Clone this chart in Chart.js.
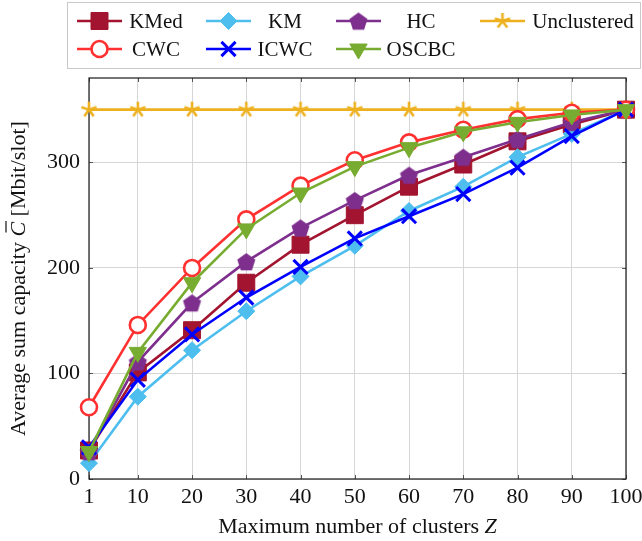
<!DOCTYPE html>
<html>
<head>
<meta charset="utf-8">
<script src="https://cdn.jsdelivr.net/npm/chart.js@4.4.1/dist/chart.umd.min.js"></script>
<style>
  html, body { margin: 0; padding: 0; background: #fff; }
  #wrap { width: 642px; height: 541px; }
</style>
</head>
<body>
<div id="wrap"><canvas id="myChart" width="642" height="541"></canvas></div>
<script>
// data
const clusters = [1, 10, 20, 30, 40, 50, 60, 70, 80, 90, 100];
const kmed = [27, 101, 141, 186, 222, 250, 277, 298, 320, 336, 350];
const km = [15, 78, 122, 159, 192, 221, 254, 277, 305, 327, 350];
const hc = [26, 111, 167, 206, 238, 264, 288, 305, 322, 338, 350];
const unclustered = [350, 350, 350, 350, 350, 350, 350, 350, 350, 350, 350];
const cwc = [68, 146, 200, 246, 278, 302, 319, 331, 341, 347, 350];
const icwc = [30, 94, 137, 172, 201, 228, 249, 270, 295, 325, 350];
const oscbc = [26, 120, 186, 237, 271, 296, 314, 329, 338, 345, 350];
const yTicks = [0, 100, 200, 300];

const serif = '"Liberation Serif", "DejaVu Serif", serif';

// pentagon and asterisk marks (not in Chart.js)
function makePentagon(color, r) {
    let s = Math.ceil(r * 2 + 2);
    let c = document.createElement('canvas');
    c.width = s; c.height = s;
    let g = c.getContext('2d');
    g.fillStyle = color;
    g.beginPath();
    for (let i = 0; i < 5; i++) {
        let a = -Math.PI / 2 + i * 2 * Math.PI / 5;
        g.lineTo(s / 2 + r * Math.cos(a), s / 2 + 1 + r * Math.sin(a));
    }
    g.closePath();
    g.fill();
    return c;
}

function makeStar(color, r) {
    let s = Math.ceil(r * 2 + 4);
    let c = document.createElement('canvas');
    c.width = s; c.height = s;
    let g = c.getContext('2d');
    g.strokeStyle = color;
    g.lineWidth = 2.6;
    g.beginPath();
    for (let i = 0; i < 5; i++) {
        let a = -Math.PI / 2 + i * 2 * Math.PI / 5;
        g.moveTo(s / 2, s / 2);
        g.lineTo(s / 2 + r * Math.cos(a), s / 2 + r * Math.sin(a));
    }
    g.stroke();
    return c;
}

function series(label, values, color, extra) {
    return Object.assign({
        label: label,
        data: clusters.map((x, i) => ({ x: x, y: values[i] })),
        borderColor: color,
        backgroundColor: color,
        pointBackgroundColor: color,
        pointBorderColor: color,
        borderWidth: 2.6,
        pointBorderWidth: 1,
        pointRadius: 8,
        pointHoverRadius: 8,
        clip: false,
        tension: 0
    }, extra);
}

let datasets = [
    series('KMed', kmed, '#A2142F', { pointStyle: 'rect', pointRadius: 12, order: 7 }),
    series('KM', km, '#4DBEEE', { pointStyle: 'rectRot', pointRadius: 8.5, order: 6 }),
    series('HC', hc, '#7E2F8E', { pointStyle: makePentagon('#7E2F8E', 9.5), order: 5 }),
    series('Unclustered', unclustered, '#EDB120', { pointStyle: makeStar('#EDB120', 8), order: 4 }),
    series('CWC', cwc, '#FF3030', { pointStyle: 'circle', pointRadius: 8, pointBorderWidth: 2.6, pointBackgroundColor: '#ffffff', order: 3 }),
    series('ICWC', icwc, '#0000FF', { pointStyle: 'crossRot', pointRadius: 10, pointBorderWidth: 3, order: 2 }),
    series('OSCBC', oscbc, '#77AC30', { pointStyle: 'triangle', pointRotation: 180, pointRadius: 10, order: 1 })
];

// plot frame + inner tick marks
const framePlugin = {
    id: 'frame',
    beforeDatasetsDraw(chart) {
        let a = chart.chartArea, ctx = chart.ctx;
        ctx.save();
        ctx.strokeStyle = '#555';
        ctx.lineWidth = 1;
        ctx.beginPath();
        clusters.forEach(v => {
            let x = Math.round(chart.scales.x.getPixelForValue(v)) + 0.5;
            ctx.moveTo(x, a.bottom); ctx.lineTo(x, a.bottom - 4);
            ctx.moveTo(x, a.top); ctx.lineTo(x, a.top + 4);
        });
        yTicks.forEach(v => {
            let y = Math.round(chart.scales.y.getPixelForValue(v)) + 0.5;
            ctx.moveTo(a.left, y); ctx.lineTo(a.left + 4, y);
            ctx.moveTo(a.right, y); ctx.lineTo(a.right - 4, y);
        });
        ctx.stroke();
        ctx.strokeStyle = '#1a1a1a';
        ctx.lineWidth = 1.2;
        ctx.strokeRect(a.left, a.top, a.right - a.left, a.bottom - a.top);
        ctx.restore();
    }
};

// legend box, 4 columns like the original
const legendPlugin = {
    id: 'boxLegend',
    afterDraw(chart) {
        let ctx = chart.ctx;
        let lineX = [77, 206, 336, 480];
        let textX = [156, 285, 421, 583];
        let rowY = [21, 49];
        ctx.save();
        ctx.strokeStyle = '#c8c8c8';
        ctx.lineWidth = 1;
        ctx.strokeRect(67.5, 2.5, 573, 66);
        chart.data.datasets.forEach((ds, i) => {
            let col = i % 4, row = Math.floor(i / 4);
            let x0 = lineX[col], y = rowY[row];
            ctx.strokeStyle = ds.borderColor;
            ctx.lineWidth = ds.borderWidth;
            ctx.beginPath();
            ctx.moveTo(x0, y); ctx.lineTo(x0 + 45, y);
            ctx.stroke();
            ctx.fillStyle = ds.pointBackgroundColor;
            ctx.strokeStyle = ds.pointBorderColor;
            ctx.lineWidth = ds.pointBorderWidth;
            Chart.helpers.drawPoint(ctx, {
                pointStyle: ds.pointStyle,
                radius: ds.pointRadius,
                rotation: ds.pointRotation || 0,
                borderWidth: ds.pointBorderWidth
            }, x0 + 22.5, y);
            ctx.fillStyle = '#111';
            ctx.font = '21px ' + serif;
            ctx.textAlign = 'center';
            ctx.textBaseline = 'middle';
            ctx.fillText(ds.label, textX[col], y + 1);
        });
        ctx.restore();
    }
};

// axis titles with italic symbols
const titlePlugin = {
    id: 'axisTitles',
    afterDraw(chart) {
        let ctx = chart.ctx, a = chart.chartArea;
        let up = '22px ' + serif, it = 'italic 22px ' + serif;
        ctx.save();
        ctx.fillStyle = '#111';
        ctx.textBaseline = 'alphabetic';
        ctx.textAlign = 'left';

        // x title
        let p1 = 'Maximum number of clusters ';
        ctx.font = up; let w1 = ctx.measureText(p1).width;
        ctx.font = it; let w2 = ctx.measureText('Z').width;
        let x = (a.left + a.right) / 2 - (w1 + w2) / 2, y = 533;
        ctx.font = up; ctx.fillText(p1, x, y);
        ctx.font = it; ctx.fillText('Z', x + w1, y);

        // y title, rotated
        let q1 = 'Average sum capacity ', q3 = ' [Mbit/slot]';
        ctx.font = up; let v1 = ctx.measureText(q1).width, v3 = ctx.measureText(q3).width;
        ctx.font = it; let v2 = ctx.measureText('C').width;
        ctx.translate(25, (a.top + a.bottom) / 2);
        ctx.rotate(-Math.PI / 2);
        let sx = -(v1 + v2 + v3) / 2;
        ctx.font = up; ctx.fillText(q1, sx, 0);
        ctx.font = it; ctx.fillText('C', sx + v1, 0);
        ctx.strokeStyle = '#111'; ctx.lineWidth = 1.2;
        ctx.beginPath();
        ctx.moveTo(sx + v1 + 4, -19); ctx.lineTo(sx + v1 + v2 + 1, -19);
        ctx.stroke();
        ctx.font = up; ctx.fillText(q3, sx + v1 + v2, 0);
        ctx.restore();
    }
};

let ctx = document.getElementById('myChart').getContext('2d');

let myChart = new Chart(ctx, {
    type: 'line',
    data: { datasets: datasets },
    options: {
        responsive: false,
        animation: false,
        layout: { padding: { top: 78, right: 16, left: 0, bottom: 0 } },
        plugins: {
            legend: { display: false },
            tooltip: { enabled: false }
        },
        scales: {
            x: {
                type: 'linear',
                min: 1,
                max: 100,
                afterBuildTicks: s => { s.ticks = clusters.map(v => ({ value: v })); },
                afterFit: s => { s.height = 62; s.paddingLeft = 0; s.paddingRight = 0; },
                grid: { color: '#d6d6d6', lineWidth: 1, drawTicks: false },
                border: { display: false },
                ticks: {
                    padding: 5,
                    autoSkip: false,
                    maxRotation: 0,
                    color: '#111',
                    font: { family: serif, size: 22 }
                }
            },
            y: {
                min: 0,
                max: 380,
                afterBuildTicks: s => { s.ticks = yTicks.map(v => ({ value: v })); },
                afterFit: s => { s.width = 89; },
                grid: { color: '#d6d6d6', lineWidth: 1, drawTicks: false },
                border: { display: false },
                ticks: {
                    padding: 9,
                    color: '#111',
                    font: { family: serif, size: 22 }
                }
            }
        }
    },
    plugins: [framePlugin, legendPlugin, titlePlugin]
});
</script>
</body>
</html>
